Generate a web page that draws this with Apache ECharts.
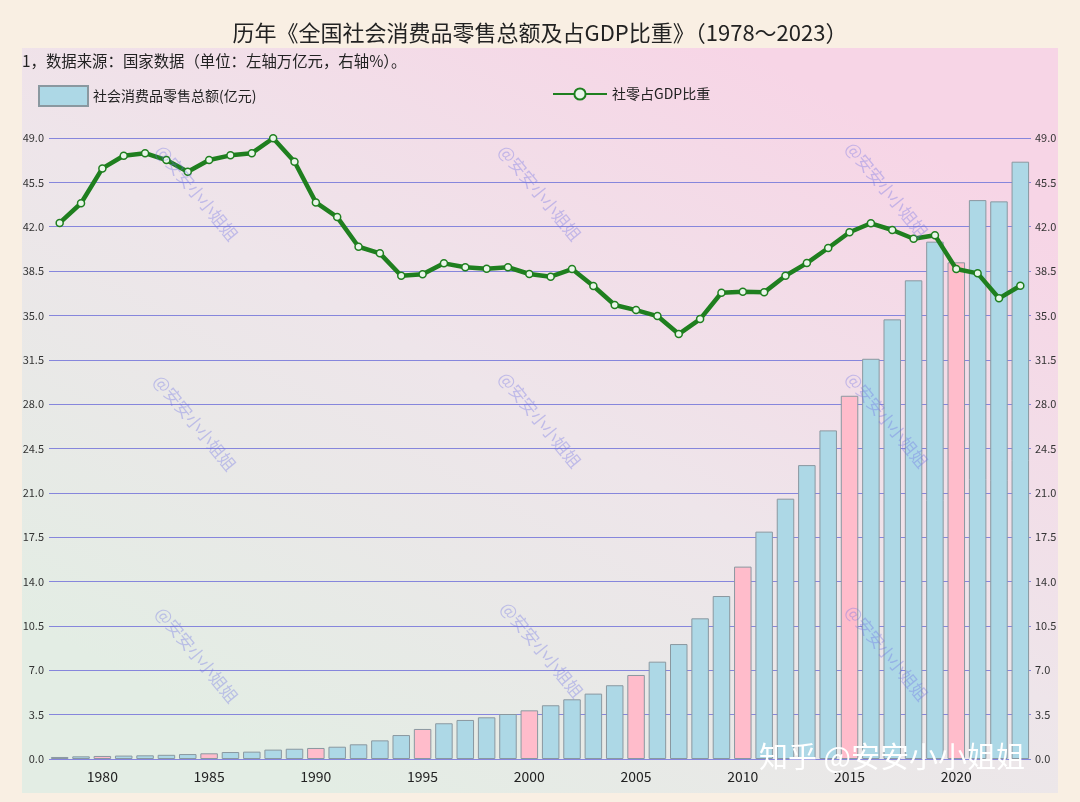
<!DOCTYPE html>
<html>
<head>
<meta charset="utf-8">
<script src="https://cdn.jsdelivr.net/npm/echarts@6/dist/echarts.min.js"></script>
<style>html,body{margin:0;padding:0;background:#f9efe3;}#c{width:1080px;height:802px;}</style>
</head>
<body>
<div id="c"></div>
<script>
const years = ['1978','1979','1980','1981','1982','1983','1984','1985','1986','1987','1988','1989','1990','1991','1992','1993','1994','1995','1996','1997','1998','1999','2000','2001','2002','2003','2004','2005','2006','2007','2008','2009','2010','2011','2012','2013','2014','2015','2016','2017','2018','2019','2020','2021','2022','2023'];
const retailTotal = [0.16,0.21,0.24,0.27,0.29,0.33,0.39,0.45,0.55,0.58,0.74,0.81,0.87,0.97,1.16,1.47,1.89,2.37,2.82,3.08,3.29,3.55,3.84,4.24,4.71,5.16,5.82,6.63,7.68,9.07,11.10,12.86,15.18,17.94,20.54,23.19,25.93,28.66,31.58,34.69,37.77,40.82,39.19,44.10,44.00,47.13];
const gdpShare = [42.3,43.85,46.6,47.6,47.8,47.26,46.34,47.26,47.63,47.8,48.98,47.13,43.92,42.76,40.42,39.9,38.13,38.24,39.11,38.8,38.69,38.8,38.27,38.06,38.66,37.32,35.82,35.42,34.95,33.53,34.71,36.79,36.87,36.82,38.13,39.13,40.32,41.56,42.27,41.74,41.05,41.32,38.66,38.32,36.35,37.34];
const highlightYears = ['1980','1985','1990','1995','2000','2005','2010','2015','2020'];
const titleText = '历年《全国社会消费品零售总额及占GDP比重》（1978～2023）';
const noteText = '1，数据来源：国家数据（单位：左轴万亿元，右轴%）。';
const barName = '社会消费品零售总额(亿元)';
const lineName = '社零占GDP比重';
const watermarkText = '@安安小小姐姐';
const siteMark = '知乎 @安安小小姐姐';

const FONT = '"Noto Sans CJK SC", "Noto Sans", sans-serif';
const blue = '#add8e6', pink = '#ffbccb';

const chart = echarts.init(document.getElementById('c'), null, {renderer: 'canvas'});

const wmCenters = [[197,193],[540,193],[887,190],[195,423],[540,420],[887,420],[197,655],[542,650],[887,653]];
const graphics = [
  {type:'rect', z:-10, silent:true, shape:{x:22,y:48,width:1036,height:745},
   style:{fill:new echarts.graphic.LinearGradient(0.7,0,0.3,1,[
     {offset:0,color:'#f7d5e6'},{offset:0.5,color:'#eee5ea'},{offset:1,color:'#e3ede4'}])}},
  {type:'text', left:22, top:53, z:10, style:{text:noteText, font:'15.4px '+FONT, fill:'#222'}}
];
wmCenters.forEach(c => graphics.push({
  type:'text', x:c[0], y:c[1], rotation:-0.88, z:20, silent:true,
  style:{text:watermarkText, font:'17px '+FONT, fill:'rgba(105,110,230,0.35)', align:'center', verticalAlign:'middle'}
}));
graphics.push({type:'text', x:892, y:757, z:30, silent:true,
  style:{text:siteMark, font:'29px '+FONT, fill:'#ffffff', align:'center', verticalAlign:'middle',
    shadowColor:'rgba(0,0,0,0.55)', shadowBlur:3, shadowOffsetX:1, shadowOffsetY:1}});

const axisLbl = {fontSize:11, color:'#333', fontFamily:FONT, formatter: v => v.toFixed(1)};

chart.setOption({
  backgroundColor:'#f9efe3',
  animation:false,
  title:{text:titleText, left:'center', top:17, textStyle:{fontSize:22, fontWeight:'normal', color:'#222', fontFamily:FONT}},
  legend:[
    {data:[{name:barName, icon:'rect'}], left:33, top:80, itemWidth:49, itemHeight:20, itemGap:5, textStyle:{fontSize:14, color:'#222', fontFamily:FONT}},
    {data:[lineName], left:547, top:82, itemWidth:54, itemHeight:14, textStyle:{fontSize:14, color:'#222', fontFamily:FONT}}
  ],
  graphic:graphics,
  grid:{left:49, right:49, top:138, bottom:43, containLabel:false},
  xAxis:{type:'category', data:years, axisTick:{show:false}, axisLine:{show:false},
    axisLabel:{interval:(i,v)=> (+v)%5===0, fontSize:14, color:'#222', margin:11, fontFamily:FONT}},
  yAxis:[
    {type:'value', min:0, max:49, interval:3.5, axisLabel:Object.assign({margin:5}, axisLbl),
     splitLine:{lineStyle:{color:'#8686dc', width:1}}, axisLine:{show:false}, axisTick:{show:false}},
    {type:'value', min:0, max:49, interval:3.5, position:'right', axisLabel:Object.assign({margin:4}, axisLbl),
     splitLine:{show:false}, axisLine:{show:false}, axisTick:{show:false}}
  ],
  series:[
    {name:barName, type:'bar', yAxisIndex:0, barCategoryGap:'18%',
     itemStyle:{color:blue, borderColor:'#8a98a0', borderWidth:1},
     data:retailTotal.map((v,i)=> highlightYears.includes(years[i]) ? {value:v, itemStyle:{color:pink}} : v)},
    {name:lineName, type:'line', yAxisIndex:1, data:gdpShare, symbol:'circle', symbolSize:7,
     lineStyle:{color:'#1f7f1f', width:4.5}, itemStyle:{color:'#eaf6ea', borderColor:'#1f7f1f', borderWidth:1.5}, z:5}
  ]
});
</script>
</body>
</html>
